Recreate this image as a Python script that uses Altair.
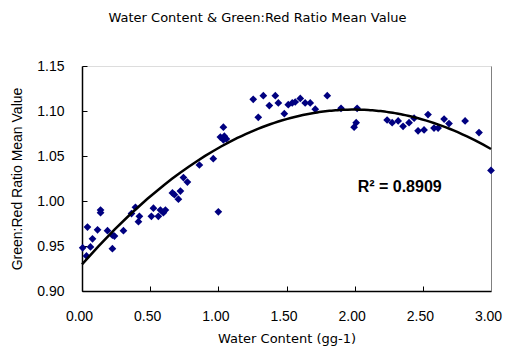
import altair as alt
import pandas as pd

# ---- data ----
water = [0.04, 0.114, 0.005, 0.033, 0.062, 0.077, 0.136, 0.136, 0.187, 0.223,
         0.238, 0.223, 0.304, 0.392, 0.363, 0.421, 0.414, 0.509, 0.524, 0.575,
         0.612, 0.597, 0.56, 0.663, 0.678, 0.707, 0.722, 0.744, 0.773, 0.861,
         0.963, 1.0, 1.037, 1.015, 1.044, 1.037, 1.059, 1.256, 1.33, 1.418,
         1.374, 1.293, 1.44, 1.484, 1.513, 1.542, 1.564, 1.601, 1.637, 1.674,
         1.711, 1.799, 1.90, 2.018, 2.011, 1.996, 2.238, 2.275, 2.319, 2.355,
         2.399, 2.436, 2.465, 2.509, 2.538, 2.582, 2.612, 2.656, 2.692, 2.81,
         2.912, 3.0]
ratio = [0.971, 0.968, 0.948, 0.939, 0.949, 0.958, 0.990, 0.987, 0.967, 0.962,
         0.961, 0.947, 0.967, 0.993, 0.986, 0.983, 0.977, 0.983, 0.992, 0.990,
         0.990, 0.987, 0.983, 1.009, 1.007, 1.002, 1.011, 1.026, 1.021, 1.040,
         1.047, 0.988, 1.082, 1.071, 1.072, 1.068, 1.069, 1.113, 1.117, 1.117,
         1.106, 1.093, 1.109, 1.097, 1.107, 1.109, 1.110, 1.114, 1.109, 1.109,
         1.102, 1.117, 1.103, 1.103, 1.087, 1.082, 1.090, 1.087, 1.089, 1.083,
         1.087, 1.092, 1.078, 1.079, 1.096, 1.081, 1.081, 1.091, 1.086, 1.089,
         1.076, 1.034]

x_ticks = [0.0, 0.5, 1.0, 1.5, 2.0, 2.5, 3.0]
y_ticks = [0.90, 0.95, 1.00, 1.05, 1.10, 1.15]

chart_title = "Water Content & Green:Red Ratio Mean Value"
x_title = "Water Content (gg-1)"
y_title = "Green:Red Ratio Mean Value"
r2_text = ["R² = 0.8909"]
r2_x = [2.33]
r2_y = [1.016]

df = pd.DataFrame({"water": water, "ratio": ratio})
ann = pd.DataFrame({"water": r2_x, "ratio": r2_y, "label": r2_text})

xscale = alt.Scale(domain=[0, 3], nice=False, zero=False)
yscale = alt.Scale(domain=[0.9, 1.15], nice=False, zero=False)

label_font = "Liberation Sans"
gothic = "DejaVu Sans"

points = alt.Chart(df).mark_point(
    shape="diamond", filled=True, color="#000080", size=60, opacity=1
).encode(
    x=alt.X("water:Q", scale=xscale, axis=alt.Axis(
        orient="bottom", values=x_ticks, format=".2f", title=x_title,
        ticks=False, grid=False, domainColor="black", domainWidth=1.5,
        labelFont=label_font, labelFontSize=14, labelColor="black",
        labelPadding=18, labelOffset=-3, labelFlush=False,
        labelOverlap=False,
        titleFont=gothic, titleFontSize=13, titleFontWeight="normal",
        titleColor="black", titlePadding=9)),
    y=alt.Y("ratio:Q", scale=yscale, axis=alt.Axis(
        orient="left", values=y_ticks, format=".2f", title=y_title,
        ticks=False, grid=False, domainColor="black", domainWidth=1.5,
        labelFont=label_font, labelFontSize=14, labelColor="black",
        labelPadding=18, labelFlush=False, labelOverlap=False,
        titleFont=label_font, titleFontSize=14, titleFontWeight="normal",
        titleColor="black", titlePadding=12)),
)

trend = alt.Chart(df).transform_regression(
    "water", "ratio", method="poly", order=2, extent=[0, 3]
).mark_line(color="black", strokeWidth=2.5).encode(
    x=alt.X("water:Q", scale=xscale, axis=alt.Axis(
        orient="bottom", values=x_ticks, offset=-5, labels=False,
        domain=False, ticks=True, tickSize=5, tickColor="black",
        grid=False, title=None)),
    y=alt.Y("ratio:Q", scale=yscale, axis=alt.Axis(
        orient="left", values=y_ticks, offset=-5, labels=False,
        domain=False, ticks=True, tickSize=5, tickColor="black",
        grid=False, title=None)),
)

label = alt.Chart(ann).mark_text(
    font=label_font, fontSize=16, fontWeight="bold", color="black",
    align="center", baseline="middle"
).encode(
    x=alt.X("water:Q", scale=xscale, axis=None),
    y=alt.Y("ratio:Q", scale=yscale, axis=alt.Axis(
        orient="right", labels=False, ticks=False, grid=False,
        domainColor="#808080", domainWidth=1, title=None)),
    text="label:N",
)

chart = alt.layer(points, trend, label).resolve_axis(
    x="independent", y="independent"
).properties(
    width=409, height=225,
    title=alt.TitleParams(text=chart_title, font=gothic, fontSize=13,
                          fontWeight="normal", color="black", offset=34,
                          anchor="middle", dx=-29),
    autosize=alt.AutoSizeParams(type="none"),
    padding={"left": 82, "top": 66, "right": 14, "bottom": 56},
).configure_view(stroke=None).configure(background="white")

chart.save("out.html", embed_options={"renderer": "svg", "actions": False})
